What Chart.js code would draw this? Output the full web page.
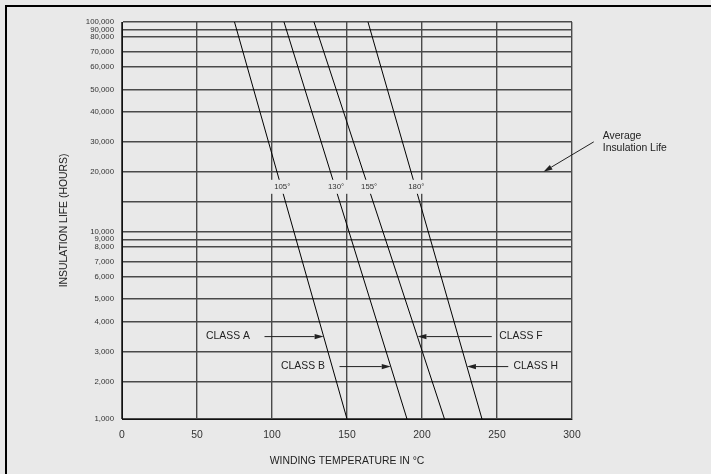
<!DOCTYPE html>
<html>
<head>
<meta charset="utf-8">
<script src="https://cdn.jsdelivr.net/npm/chart.js@4/dist/chart.umd.min.js"></script>
<style>
  html, body { margin: 0; padding: 0; background: #e9e9e9; }
  canvas { display: block; }
</style>
</head>
<body>
<canvas id="c" width="711" height="474"></canvas>
<script>
// ---------------- data ----------------
const classNames   = ['CLASS A', 'CLASS B', 'CLASS F', 'CLASS H'];
const classTemps   = [105, 130, 155, 180];          // rating labels (°C)
const lifeTop      = 100000;                         // hours at upper end of each line
const lifeBottom   = 1000;                           // hours at lower end of each line
const tempAtTop    = [75, 108, 128, 164];            // °C where each line meets 100,000 h
const tempAtBottom = [150, 190, 215, 240];           // °C where each line meets 1,000 h

const xTicks = [0, 50, 100, 150, 200, 250, 300];
const lifeTicks = [1000, 2000, 3000, 4000, 5000, 6000, 7000, 8000, 9000, 10000,
                   15000, 20000, 30000, 40000, 50000, 60000, 70000, 80000, 90000, 100000];
const unlabeledTicks = [15000];

// annotation anchors (data units)
const classRowHours = [3464, 2449, 3464, 2449];     // rows of CLASS labels / arrows
const classLabelX   = [56, 106, 251.5, 261];         // °C where label text starts
const classTailX    = [95, 145, 246.5, 257.5];       // °C where arrow tail starts
const ratingRowHours = 17320;                        // row of the 105°/130°/... labels
const ratingBandX    = [94, 206];                    // °C span cleared behind them
const avgText  = ['Average', 'Insulation Life'];
const avgTail  = [314.5, 30000];
const avgTip   = [281, 20000];
const avgTextX = 320.5;

// ---------------- warped "log-like" axis used by the original graph paper ----------------
const yTickSpacing = [0, 5, 9, 13, 16, 19, 21, 23, 24, 25, 29, 33, 37, 41, 44, 47, 49, 51, 52, 53];

function warpDecimal(v) {
  const t = lifeTicks, u = yTickSpacing, n = t.length, tot = u[n - 1];
  const lv = Math.log(v);
  let i = 0;
  if (v <= t[0]) i = 0;
  else if (v >= t[n - 1]) i = n - 2;
  else { while (i < n - 2 && v > t[i + 1]) i++; }
  const f = (lv - Math.log(t[i])) / (Math.log(t[i + 1]) - Math.log(t[i]));
  return (u[i] + f * (u[i + 1] - u[i])) / tot;
}
function warpValue(d) {
  const t = lifeTicks, u = yTickSpacing, n = t.length, tot = u[n - 1];
  const g = d * tot;
  let i = 0;
  while (i < n - 2 && g > u[i + 1]) i++;
  const f = (g - u[i]) / (u[i + 1] - u[i]);
  return Math.exp(Math.log(t[i]) + f * (Math.log(t[i + 1]) - Math.log(t[i])));
}

class WarpLogScale extends Chart.Scale {
  static id = 'warplog';
  static defaults = { ticks: { autoSkip: false } };
  parse(raw) { return raw == null ? NaN : +raw; }
  determineDataLimits() {
    this.min = lifeTicks[0];
    this.max = lifeTicks[lifeTicks.length - 1];
  }
  buildTicks() { return lifeTicks.map(v => ({ value: v })); }
  getLabelForValue(v) { return Math.round(v).toLocaleString('en-US'); }
  getPixelForValue(v) { return this.getPixelForDecimal(warpDecimal(v)); }
  getPixelForTick(i) {
    const t = this.ticks;
    return (i < 0 || i >= t.length) ? null : this.getPixelForValue(t[i].value);
  }
  getValueForPixel(p) { return warpValue(this.getDecimalForPixel(p)); }
}
Chart.register(WarpLogScale);

// ---------------- styles ----------------
const BG = '#e9e9e9';
const GRID = '#4a4a4a';
const TXT = '#222222';
const FONT = 'Liberation Sans, Arial, Helvetica, sans-serif';

function arrow(ctx, x1, y1, x2, y2) {
  const a = Math.atan2(y2 - y1, x2 - x1), c = Math.cos(a), s = Math.sin(a);
  const L = 9, W = 2.7;
  ctx.beginPath();
  ctx.moveTo(x1, y1);
  ctx.lineTo(x2 - L * c, y2 - L * s);
  ctx.stroke();
  ctx.beginPath();
  ctx.moveTo(x2, y2);
  ctx.lineTo(x2 - L * c + W * s, y2 - L * s - W * c);
  ctx.lineTo(x2 - L * c - W * s, y2 - L * s + W * c);
  ctx.closePath();
  ctx.fill();
}

function crossX(meta, y) {
  const p0 = meta.data[0], p1 = meta.data[1];
  return p0.x + (y - p0.y) * (p1.x - p0.x) / (p1.y - p0.y);
}

const decorations = {
  id: 'decorations',
  beforeDraw(chart) {
    const ctx = chart.ctx;
    ctx.save();
    ctx.fillStyle = BG;
    ctx.fillRect(0, 0, chart.width, chart.height);
    ctx.restore();
  },
  afterDatasetsDraw(chart) {
    const ctx = chart.ctx, xs = chart.scales.x, ys = chart.scales.y;
    ctx.save();
    // rating band
    const by = ys.getPixelForValue(ratingRowHours);
    ctx.fillStyle = BG;
    ctx.fillRect(xs.getPixelForValue(ratingBandX[0]), by - 7, xs.getPixelForValue(ratingBandX[1]) - xs.getPixelForValue(ratingBandX[0]), 14);
    ctx.fillStyle = '#333';
    ctx.font = '7.8px ' + FONT;
    ctx.textAlign = 'center';
    ctx.textBaseline = 'middle';
    classTemps.forEach((t, i) => {
      const meta = chart.getDatasetMeta(i);
      ctx.fillText(t + '°', crossX(meta, by) + 1, by);
    });
    // class labels and arrows
    ctx.font = '10.4px ' + FONT;
    ctx.textAlign = 'left';
    ctx.strokeStyle = '#222';
    ctx.lineWidth = 1;
    classNames.forEach((name, i) => {
      const meta = chart.getDatasetMeta(i);
      const y = ys.getPixelForValue(classRowHours[i]);
      ctx.fillStyle = TXT;
      ctx.fillText(name, xs.getPixelForValue(classLabelX[i]), y);
      ctx.fillStyle = '#222';
      arrow(ctx, xs.getPixelForValue(classTailX[i]), y, crossX(meta, y), y);
    });
    // average insulation life
    const tx = xs.getPixelForValue(avgTail[0]), ty = ys.getPixelForValue(avgTail[1]);
    arrow(ctx, tx, ty, xs.getPixelForValue(avgTip[0]), ys.getPixelForValue(avgTip[1]));
    ctx.fillStyle = TXT;
    const ax = xs.getPixelForValue(avgTextX);
    ctx.fillText(avgText[0], ax, ty - 6);
    ctx.fillText(avgText[1], ax, ty + 6);
    ctx.restore();
  },
  afterDraw(chart) {
    const ctx = chart.ctx;
    ctx.save();
    ctx.fillStyle = '#000';
    ctx.fillRect(5, 5, chart.width - 5, 2);
    ctx.fillRect(5, 5, 2, chart.height - 5);
    ctx.restore();
  }
};

const datasets = classNames.map((name, i) => ({
  label: name,
  data: [{ x: tempAtTop[i], y: lifeTop }, { x: tempAtBottom[i], y: lifeBottom }],
  borderColor: '#000',
  borderWidth: 1,
  pointRadius: 0,
  fill: false,
  tension: 0
}));

new Chart(document.getElementById('c'), {
  type: 'line',
  data: { datasets },
  options: {
    responsive: false,
    animation: false,
    events: [],
    layout: { padding: { left: 0, right: 139, top: 22, bottom: 0 } },
    plugins: { legend: { display: false }, tooltip: { enabled: false } },
    scales: {
      x: {
        type: 'linear',
        min: xTicks[0],
        max: xTicks[xTicks.length - 1],
        afterBuildTicks(scale) { scale.ticks = xTicks.map(v => ({ value: v })); },
        afterFit(scale) { scale.height = 55; },
        grid: { color: GRID, lineWidth: 1.4, drawTicks: false },
        border: { color: '#111', width: 1 },
        ticks: { color: '#333', font: { family: FONT, size: 10.4 }, padding: 10, maxRotation: 0 },
        title: {
          display: true, text: 'WINDING TEMPERATURE IN °C', color: TXT,
          font: { family: FONT, size: 10.4 }, padding: { top: 0, bottom: 6.8 }
        }
      },
      y: {
        type: 'warplog',
        position: 'left',
        afterFit(scale) { scale.width = 122; },
        grid: { color: GRID, lineWidth: 1.4, drawTicks: false },
        border: { color: '#111', width: 1 },
        ticks: {
          autoSkip: false,
          color: '#333',
          font: { family: FONT, size: 7.8 },
          padding: 8,
          callback: v => unlabeledTicks.includes(v) ? '' : Number(v).toLocaleString('en-US')
        },
        title: {
          display: true, text: 'INSULATION LIFE (HOURS)', color: TXT,
          font: { family: FONT, size: 10.4 }, padding: { top: 57.8, bottom: 0 }
        }
      }
    }
  },
  plugins: [decorations]
});
</script>
</body>
</html>
